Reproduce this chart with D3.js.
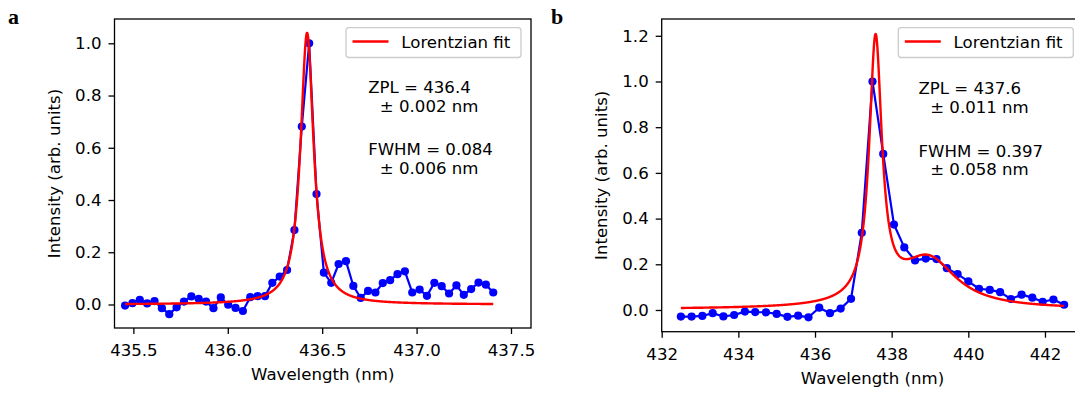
<!DOCTYPE html>
<html>
<head>
<meta charset="utf-8">
<script src="https://cdn.jsdelivr.net/npm/d3@7"></script>
<style>
  html, body { margin: 0; padding: 0; background: #ffffff; }
  svg { display: block; }
  text { fill: #000; }
</style>
</head>
<body>
<svg id="chart" width="1075" height="394"></svg>
<script>
// ---- Panel a: measured spectrum ----
const aWavelength = [
  435.456, 435.495, 435.534, 435.573, 435.612, 435.651, 435.690, 435.729, 435.768, 435.807,
  435.846, 435.885, 435.924, 435.963, 436.002, 436.041, 436.080, 436.119, 436.158, 436.197,
  436.236, 436.275, 436.314, 436.353, 436.392, 436.431, 436.470, 436.509, 436.548, 436.587,
  436.626, 436.665, 436.704, 436.743, 436.782, 436.821, 436.860, 436.899, 436.938, 436.977,
  437.016, 437.055, 437.094, 437.133, 437.172, 437.211, 437.250, 437.289, 437.328, 437.367,
  437.406
];
const aIntensity = [
  -0.004, 0.005, 0.018, 0.004, 0.013, -0.014, -0.037, -0.011, 0.011, 0.031,
  0.022, 0.011, -0.014, 0.027, -0.001, -0.013, -0.025, 0.028, 0.032, 0.032,
  0.083, 0.107, 0.132, 0.285, 0.681, 1.000, 0.423, 0.122, 0.083, 0.155,
  0.166, 0.071, 0.025, 0.052, 0.046, 0.082, 0.093, 0.116, 0.127, 0.046,
  0.057, 0.033, 0.083, 0.070, 0.042, 0.073, 0.037, 0.059, 0.084, 0.076,
  0.046
];
// Lorentzian fit parameters (one component)
const aFitCenter = [436.42];
const aFitFwhm = [0.084];
const aFitAmp = [1.04];
const aFitOffset = 0.0;
const aXTicks = [435.5, 436.0, 436.5, 437.0, 437.5];
const aYTicks = [0.0, 0.2, 0.4, 0.6, 0.8, 1.0];
const aNote = ["ZPL = 436.4", "± 0.002 nm", "FWHM = 0.084", "± 0.006 nm"];

// ---- Panel b: measured spectrum ----
const bWavelength = [
  432.50, 432.78, 433.06, 433.33, 433.61, 433.89, 434.17, 434.44, 434.72, 435.00,
  435.28, 435.56, 435.83, 436.11, 436.39, 436.67, 436.94, 437.22, 437.50, 437.78,
  438.06, 438.33, 438.61, 438.89, 439.17, 439.44, 439.72, 440.00, 440.28, 440.56,
  440.83, 441.11, 441.39, 441.67, 441.94, 442.22, 442.50
];
const bIntensity = [
  -0.029, -0.029, -0.026, -0.014, -0.028, -0.022, -0.007, -0.009, -0.010, -0.017,
  -0.030, -0.025, -0.032, 0.010, -0.014, 0.006, 0.049, 0.338, 1.000, 0.683,
  0.374, 0.274, 0.217, 0.225, 0.223, 0.183, 0.157, 0.125, 0.093, 0.088,
  0.078, 0.048, 0.067, 0.054, 0.036, 0.046, 0.023
];
// Lorentzian fit parameters (zero-phonon line + phonon side band)
const bFitCenter = [437.58, 438.95];
const bFitFwhm = [0.397, 1.80];
const bFitAmp = [1.14, 0.215];
const bFitOffset = 0.003;
const bXTicks = [432, 434, 436, 438, 440, 442];
const bYTicks = [0.0, 0.2, 0.4, 0.6, 0.8, 1.0, 1.2];
const bNote = ["ZPL = 437.6", "± 0.011 nm", "FWHM = 0.397", "± 0.058 nm"];

const FONT = 16.6;
const SANS = "'DejaVu Sans', sans-serif";
const svg = d3.select("#chart");

function lorentz(x, centers, fwhms, amps, offset) {
  let y = offset;
  for (let k = 0; k < centers.length; k++) {
    const g = fwhms[k] / 2;
    y += amps[k] * g * g / ((x - centers[k]) ** 2 + g * g);
  }
  return y;
}

function label(sel) {
  return sel.style("font-family", SANS).style("font-size", FONT + "px");
}

function drawPanel(cfg) {
  const { left, right, top, bottom } = cfg.box;
  const x = d3.scaleLinear().domain(cfg.xDomain).range([left, right]);
  const y = d3.scaleLinear().domain(cfg.yDomain).range([bottom, top]);
  const g = svg.append("g");

  const clipId = "clip-" + cfg.id;
  g.append("clipPath").attr("id", clipId)
    .append("rect").attr("x", left).attr("y", top)
    .attr("width", right - left).attr("height", bottom - top);

  // axes
  const xAxis = d3.axisBottom(x).tickValues(cfg.xTicks)
    .tickFormat(cfg.xFormat).tickSize(6).tickPadding(10.5);
  const yAxis = d3.axisLeft(y).tickValues(cfg.yTicks)
    .tickFormat(d3.format(".1f")).tickSize(6).tickPadding(7);

  const gx = g.append("g").attr("transform", `translate(0,${bottom})`).call(xAxis);
  const gy = g.append("g").attr("transform", `translate(${left},0)`).call(yAxis);
  [gx, gy].forEach(a => {
    a.select(".domain").remove();
    a.selectAll("line").attr("stroke", "#000").attr("stroke-width", 1.3);
    label(a.selectAll("text")).attr("fill", "#000");
  });

  // data + fit
  const plot = g.append("g").attr("clip-path", `url(#${clipId})`);
  const pts = cfg.wl.map((w, i) => [w, cfg.inten[i]]);
  plot.append("path").datum(pts)
    .attr("fill", "none").attr("stroke", "#0000ff").attr("stroke-width", 2.2)
    .attr("stroke-linejoin", "round")
    .attr("d", d3.line().x(d => x(d[0])).y(d => y(d[1])));
  plot.selectAll("circle.pt").data(pts).join("circle")
    .attr("class", "pt")
    .attr("cx", d => x(d[0])).attr("cy", d => y(d[1])).attr("r", 4.1)
    .attr("fill", "#0000ff");

  const wl0 = cfg.wl[0], wl1 = cfg.wl[cfg.wl.length - 1];
  const fitX = d3.range(0, 2001).map(i => wl0 + (wl1 - wl0) * i / 2000);
  const fit = fitX.map(w => [w, lorentz(w, cfg.fit.c, cfg.fit.w, cfg.fit.a, cfg.fit.o)]);
  plot.append("path").datum(fit)
    .attr("fill", "none").attr("stroke", "#ff0000").attr("stroke-width", 2.4)
    .attr("stroke-linejoin", "round")
    .attr("d", d3.line().x(d => x(d[0])).y(d => y(d[1])));

  // frame
  g.append("rect").attr("x", left).attr("y", top)
    .attr("width", right - left).attr("height", bottom - top)
    .attr("fill", "none").attr("stroke", "#000").attr("stroke-width", 1.3);

  // axis labels
  label(g.append("text")).attr("x", (left + right) / 2).attr("y", bottom + 52)
    .attr("text-anchor", "middle").text("Wavelength (nm)");
  label(g.append("text"))
    .attr("transform", `translate(${left - 55},${(top + bottom) / 2}) rotate(-90)`)
    .attr("text-anchor", "middle").text("Intensity (arb. units)");

  // legend
  const lgR = right - 10, lgW = 175, lgT = top + 8.7, lgH = 29.8;
  const lgL = lgR - lgW;
  g.append("rect").attr("x", lgL).attr("y", lgT).attr("width", lgW).attr("height", lgH)
    .attr("rx", 3).attr("fill", "#fff").attr("fill-opacity", 0.8)
    .attr("stroke", "#cccccc").attr("stroke-width", 1.3);
  g.append("line").attr("x1", lgL + 6.5).attr("x2", lgL + 42.5)
    .attr("y1", lgT + 13.8).attr("y2", lgT + 13.8)
    .attr("stroke", "#ff0000").attr("stroke-width", 2.4);
  label(g.append("text")).attr("x", lgL + 55.3).attr("y", lgT + 19.8)
    .text("Lorentzian fit");

  // fit results
  const w = right - left, h = bottom - top;
  const tx = left + 0.609 * w;
  const rows = [
    [tx, top + 0.2405 * h, cfg.note[0]],
    [tx + 11.7, top + 0.2405 * h + 18.5, cfg.note[1]],
    [tx, top + 0.4405 * h, cfg.note[2]],
    [tx + 11.7, top + 0.4405 * h + 18.5, cfg.note[3]]
  ];
  label(g.selectAll("text.note").data(rows).join("text"))
    .attr("class", "note")
    .attr("x", d => d[0]).attr("y", d => d[1])
    .text(d => d[2]);

  // panel letter
  svg.append("text").attr("x", cfg.letterX).attr("y", 24)
    .style("font-family", "'Liberation Serif', 'Times New Roman', serif")
    .style("font-weight", "bold").style("font-size", "22px")
    .text(cfg.letter);
}

drawPanel({
  id: "a", letter: "a", letterX: 8,
  box: { left: 114.5, right: 531, top: 19, bottom: 328 },
  xDomain: [435.400, 437.606], yDomain: [-0.090, 1.093],
  xTicks: aXTicks, yTicks: aYTicks, xFormat: d3.format(".1f"),
  wl: aWavelength, inten: aIntensity,
  fit: { c: aFitCenter, w: aFitFwhm, a: aFitAmp, o: aFitOffset },
  note: aNote
});

drawPanel({
  id: "b", letter: "b", letterX: 551,
  box: { left: 661.7, right: 1083.3, top: 19, bottom: 331.7 },
  xDomain: [432, 443], yDomain: [-0.095, 1.2735],
  xTicks: bXTicks, yTicks: bYTicks, xFormat: d3.format("d"),
  wl: bWavelength, inten: bIntensity,
  fit: { c: bFitCenter, w: bFitFwhm, a: bFitAmp, o: bFitOffset },
  note: bNote
});
</script>
</body>
</html>
